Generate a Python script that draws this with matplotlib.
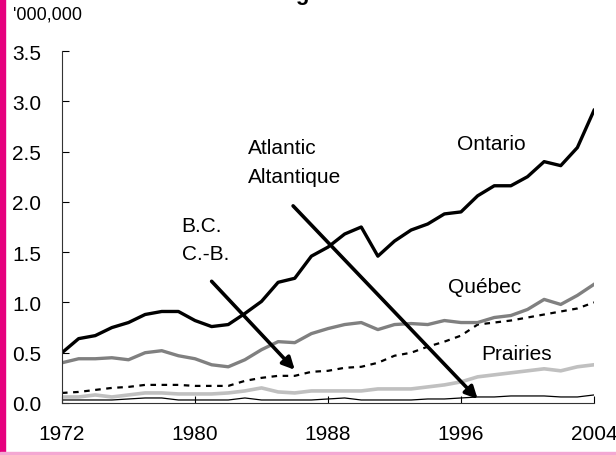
import matplotlib
matplotlib.use("Agg")
import matplotlib.pyplot as plt
from matplotlib.patches import Rectangle

plt.rcParams['font.family'] = ['Liberation Sans', 'DejaVu Sans']

# dados (milhoes)
years = list(range(1972, 2005))
ontario = [0.50, 0.64, 0.67, 0.75, 0.80, 0.88, 0.91, 0.91, 0.82, 0.76,
           0.78, 0.89, 1.01, 1.20, 1.24, 1.46, 1.55, 1.68, 1.75, 1.46,
           1.61, 1.72, 1.78, 1.88, 1.90, 2.06, 2.16, 2.16, 2.25, 2.40,
           2.36, 2.54, 2.91]
quebec = [0.40, 0.44, 0.44, 0.45, 0.43, 0.50, 0.52, 0.47, 0.44, 0.38,
          0.36, 0.43, 0.53, 0.61, 0.60, 0.69, 0.74, 0.78, 0.80, 0.73,
          0.78, 0.79, 0.78, 0.82, 0.80, 0.80, 0.85, 0.87, 0.93, 1.03,
          0.98, 1.07, 1.18]
bc = [0.10, 0.11, 0.13, 0.15, 0.16, 0.18, 0.18, 0.18, 0.17, 0.17,
      0.17, 0.22, 0.25, 0.27, 0.27, 0.31, 0.32, 0.35, 0.36, 0.40,
      0.47, 0.50, 0.56, 0.61, 0.67, 0.78, 0.80, 0.82, 0.85, 0.88,
      0.91, 0.94, 1.00]
prairies = [0.06, 0.06, 0.08, 0.06, 0.08, 0.10, 0.10, 0.09, 0.09, 0.09,
            0.10, 0.12, 0.15, 0.11, 0.10, 0.12, 0.12, 0.12, 0.12, 0.14,
            0.14, 0.14, 0.16, 0.18, 0.21, 0.26, 0.28, 0.30, 0.32, 0.34,
            0.32, 0.36, 0.38]
atlantic = [0.03, 0.03, 0.03, 0.03, 0.04, 0.05, 0.05, 0.03, 0.03, 0.03,
            0.03, 0.05, 0.03, 0.03, 0.03, 0.03, 0.04, 0.05, 0.03, 0.03,
            0.03, 0.03, 0.04, 0.04, 0.05, 0.06, 0.06, 0.07, 0.07, 0.07,
            0.06, 0.06, 0.08]
x_ticks = [1972, 1980, 1988, 1996, 2004]
y_ticks = [0.0, 0.5, 1.0, 1.5, 2.0, 2.5, 3.0, 3.5]

fig = plt.figure(figsize=(6.16, 4.56), dpi=100)
ax = fig.add_axes([62 / 616, 1 - 404 / 456, 532 / 616, 352 / 456])

ax.plot(years, atlantic, color='black', lw=0.9)
ax.plot(years, prairies, color='#c0c0c0', lw=2.6)
ax.plot(years, bc, color='black', lw=1.6, linestyle=(0, (2.5, 2.5)))
ax.plot(years, quebec, color='#808080', lw=2.4)
ax.plot(years, ontario, color='black', lw=2.4)

ax.set_xlim(1972, 2004)
ax.set_ylim(0, 3.5)
ax.set_xticks(x_ticks)
ax.set_yticks(y_ticks)
ax.set_yticklabels([f"{v:.1f}" for v in y_ticks])
ax.tick_params(direction='in', length=5, width=0.8, labelsize=15)
ax.tick_params(axis='y', pad=15)
ax.tick_params(axis='x', pad=15)
for s in ['top', 'right']:
    ax.spines[s].set_visible(False)
ax.spines['left'].set_color('#333333')
ax.spines['bottom'].set_color('#333333')

# rotulos
ax.text(1995.75, 2.58, 'Ontario', fontsize=15, va='center')
ax.text(1995.2, 1.16, 'Québec', fontsize=15, va='center')
ax.text(1997.2, 0.49, 'Prairies', fontsize=15, va='center')
ax.text(1983.2, 2.54, 'Atlantic', fontsize=15, va='center')
ax.text(1983.2, 2.25, 'Altantique', fontsize=15, va='center')
ax.text(1979.2, 1.76, 'B.C.', fontsize=15, va='center')
ax.text(1979.2, 1.49, 'C.-B.', fontsize=15, va='center')

arrow = dict(arrowstyle='-|>', lw=2.6, color='black', mutation_scale=18,
             shrinkA=0, shrinkB=0)
ax.annotate('', xy=(1997.0, 0.04), xytext=(1985.9, 1.96), arrowprops=arrow)
ax.annotate('', xy=(1986.0, 0.33), xytext=(1981.0, 1.21), arrowprops=arrow)

# unidade e titulo (cortado no topo, como no original)
fig.text(13 / 616, 1 - 15 / 456, "'000,000", fontsize=13, va='center')
fig.text(196 / 616, 1.0, 'Seniors aged 65 and over', fontsize=16,
         fontweight='bold', va='baseline')

# bordas coloridas
fig.patches.append(Rectangle((0, 0), 5 / 616, 1, transform=fig.transFigure,
                             color='#e6007e', zorder=0))
fig.patches.append(Rectangle((0, 0), 1, 3 / 456, transform=fig.transFigure,
                             color='#f4a8d2', zorder=0))

fig.savefig('out.png', dpi=100)
